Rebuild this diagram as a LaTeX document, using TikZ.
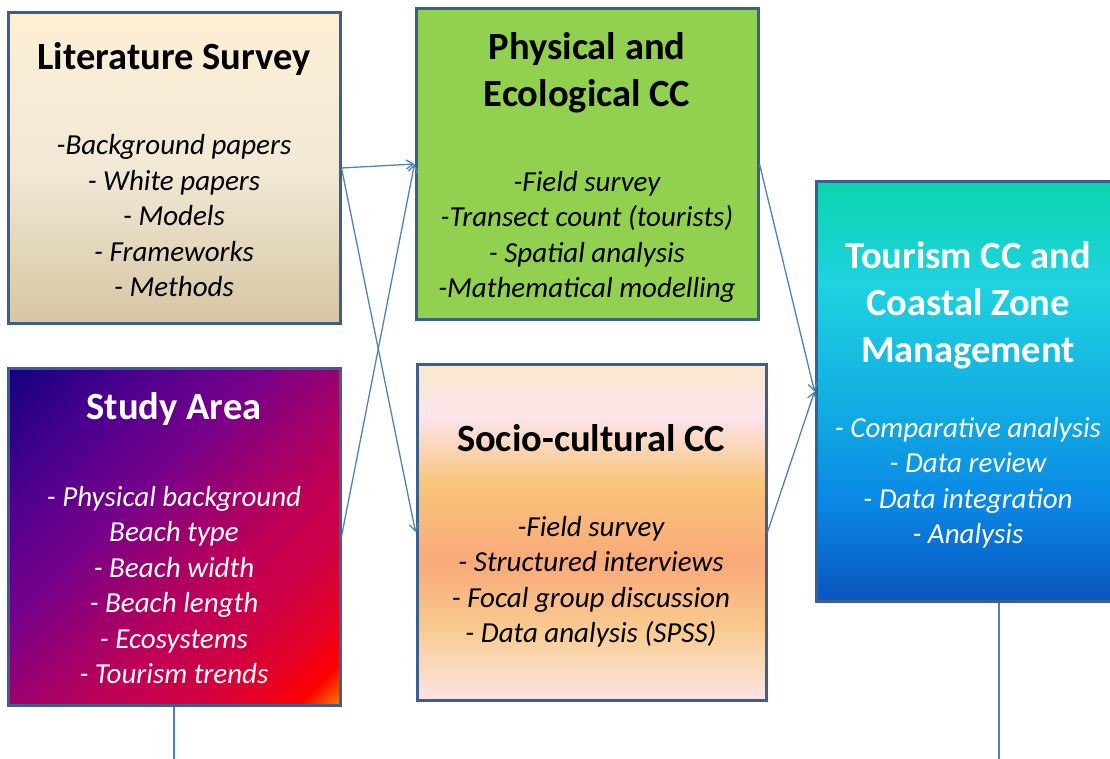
\documentclass[tikz,border=0pt]{standalone}
\usepackage{fontspec}
\setmainfont{Carlito}
\usepackage{xcolor}
\usetikzlibrary{positioning,arrows.meta}

\definecolor{boxline}{RGB}{60,95,142}
\definecolor{link}{RGB}{79,129,189}
\definecolor{physgreen}{RGB}{146,208,80}
\definecolor{litA}{RGB}{253,239,212}
\definecolor{litB}{RGB}{241,233,214}
\definecolor{litC}{RGB}{214,198,162}
\definecolor{socA}{RGB}{250,232,205}
\definecolor{socB}{RGB}{252,228,236}
\definecolor{socC}{RGB}{248,197,122}
\definecolor{socD}{RGB}{249,169,122}
\definecolor{socE}{RGB}{249,204,146}
\definecolor{socF}{RGB}{252,228,228}
\definecolor{tccA}{RGB}{10,212,173}
\definecolor{tccB}{RGB}{31,211,224}
\definecolor{tccC}{RGB}{16,168,226}
\definecolor{tccD}{RGB}{10,136,229}
\definecolor{tccE}{RGB}{10,85,189}
\definecolor{stuA}{RGB}{22,0,128}
\definecolor{stuB}{RGB}{80,0,143}
\definecolor{stuC}{RGB}{120,0,138}
\definecolor{stuD}{RGB}{154,0,112}
\definecolor{stuE}{RGB}{192,0,85}
\definecolor{stuF}{RGB}{208,0,66}
\definecolor{stuG}{RGB}{236,0,30}
\definecolor{stuH}{RGB}{255,0,0}
\definecolor{stuI}{RGB}{255,112,0}

\pgfdeclareverticalshading{litshade}{100bp}{color(0bp)=(litC); color(25bp)=(litC); color(50bp)=(litB); color(75bp)=(litA); color(100bp)=(litA)}
\pgfdeclareverticalshading{socshade}{100bp}{color(0bp)=(socF); color(25bp)=(socF); color(35bp)=(socE); color(45.4bp)=(socD); color(57.3bp)=(socC); color(67.1bp)=(socB); color(75bp)=(socA); color(100bp)=(socA)}
\pgfdeclareverticalshading{tccshade}{100bp}{color(0bp)=(tccE); color(25bp)=(tccE); color(37bp)=(tccD); color(46.6bp)=(tccC); color(63bp)=(tccB); color(75bp)=(tccA); color(100bp)=(tccA)}
\pgfdeclarehorizontalshading{stushade}{100bp}{color(0bp)=(stuA); color(15bp)=(stuA); color(30bp)=(stuB); color(42bp)=(stuC); color(50bp)=(stuD); color(60bp)=(stuE); color(69bp)=(stuF); color(77bp)=(stuG); color(81bp)=(stuH); color(85bp)=(stuI); color(100bp)=(stuI)}

\tikzset{
	box/.style={draw=boxline, line width=3pt, inner sep=0pt},
	ttl/.style={font=\bfseries\fontsize{38.5}{47}\selectfont, align=center},
	itm/.style={font=\itshape\fontsize{29}{35.5}\selectfont, align=center},
}

\begin{document}
\begin{tikzpicture}[x=1pt, y=-1pt, >={Straight Barb[length=7pt,width=9pt]}]
		\useasboundingbox (0,0) rectangle (1110,759);
		\clip (0,0) rectangle (1110,759);

		\node[box, shading=litshade, minimum width=332pt, minimum height=310pt] (lit) at (174,168) {};
		\node[box, shading=stushade, shading angle=-45, minimum width=332pt, minimum height=337pt] (study) at (174,536.5) {};
		\node[box, fill=physgreen, minimum width=342pt, minimum height=310pt] (phys) at (587,164) {};
		\node[box, shading=socshade, minimum width=349pt, minimum height=336pt] (socio) at (591.5,532) {};
		\node[box, shading=tccshade, minimum width=366pt, minimum height=419pt] (tcc) at (999,391.5) {};

		\node[ttl] (litT) at (174,59) {Literature Survey};
		\node[itm] (litI) at (174,216) {-Background papers\\- White papers\\- Models\\- Frameworks\\- Methods};

		\node[ttl] (physT) at (587,72.5) {Physical and\\Ecological CC};
		\node[itm] (physI) at (587,237) {-Field survey\\-Transect count (tourists)\\- Spatial analysis\\-Mathematical modelling};

		\node[ttl, white] (studyT) at (174,409) {Study Area};
		\node[itm, white] (studyI) at (174,585) {- Physical background\\Beach type\\- Beach width\\- Beach length\\- Ecosystems\\- Tourism trends};

		\node[ttl] (socioT) at (591,438.5) {Socio-cultural CC};
		\node[itm] (socioI) at (591,582) {-Field survey\\- Structured interviews\\- Focal group discussion\\- Data analysis (SPSS)};

		\node[ttl, white] (tccT) at (968,305) {Tourism CC and\\Coastal Zone\\Management};
		\node[itm, white] (tccI) at (968,483) {- Comparative analysis\\- Data review\\- Data integration\\- Analysis};

		\coordinate (studyEnd) at (174,759);
		\coordinate (tccEnd) at (999,759);

		\path[draw=link, line width=1.3pt] (lit.east) edge[->] (phys.west);
		\path[draw=link, line width=1.3pt] (lit.east) edge[->] (socio.west);
		\path[draw=link, line width=1.3pt] (study.east) edge[->] (phys.west);
		\path[draw=link, line width=1.3pt] (phys.east) edge[->] (tcc.west);
		\path[draw=link, line width=1.3pt] (socio.east) edge[->] (tcc.west);

		\path[draw=link, line width=1.3pt] (study.south) edge (studyEnd);
		\path[draw=link, line width=1.3pt] (tcc.south) edge (tccEnd);
	\end{tikzpicture}
\end{document}
